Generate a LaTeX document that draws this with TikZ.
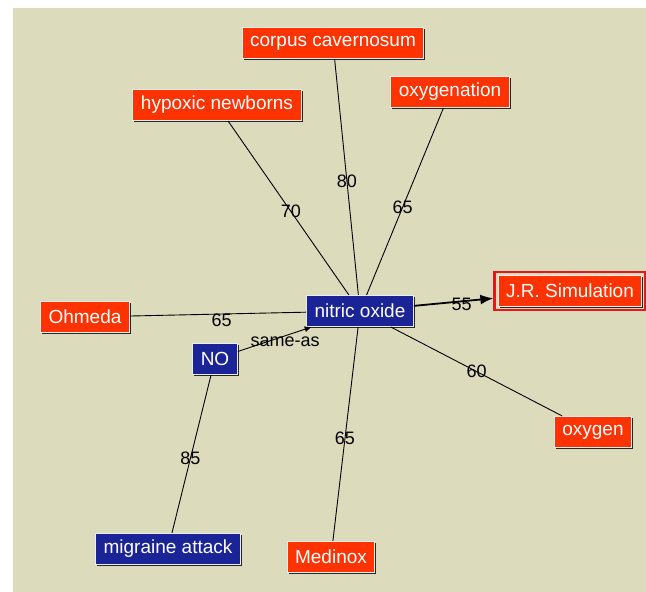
\documentclass[tikz,border=0pt]{standalone}
\usepackage{fontspec}
\setmainfont{Liberation Sans}
\usetikzlibrary{arrows.meta,shadows,fit}
\definecolor{kbbg}{RGB}{220,219,188}
\definecolor{kbred}{RGB}{255,51,0}
\definecolor{kbblue}{RGB}{26,36,150}
\definecolor{kbframe}{RGB}{232,24,24}

\begin{document}
\begin{tikzpicture}[x=1pt, y=-1pt,
  ent/.style={fill=kbred, draw=gray!15, line width=1pt, text=white, font=\fontsize{19}{21}\selectfont, inner xsep=8pt, minimum height=31pt, drop shadow={shadow xshift=1.5pt, shadow yshift=-1.5pt, fill=black!85, opacity=1}},
  con/.style={ent, fill=kbblue},
  rel/.style={line width=0.9pt, black},
  wt/.style={font=\fontsize{18}{20}\selectfont, text=black, inner sep=0pt}
]
  \useasboundingbox (0,0) rectangle (646,592);
  \fill[kbbg] (13,8) rectangle (646,592);

  % concepts
  \node[con] (nit) at (360,311) {nitric oxide};
  \node[con] (no)  at (215,359) {NO};
  \node[con] (mig) at (168,549) {migraine attack};

  % entities
  \node[ent] (cor) at (333,43)  {corpus cavernosum};
  \node[ent] (hyp) at (217,105) {hypoxic newborns};
  \node[ent] (oxn) at (450,92)  {oxygenation};
  \node[ent] (ohm) at (85,317)  {Ohmeda};
  \node[ent] (jrs) at (570,291) {J.R. Simulation};
  \node[ent] (oxy) at (593,432) {oxygen};
  \node[ent] (med) at (331,557) {Medinox};

  % selection frame
  \node[draw=kbframe, line width=2.5pt, inner sep=3pt, fit=(jrs)] (sel) {};

  % weighted links
  \draw[rel] (hyp) -- node[wt, pos=0.52] {70} (nit);
  \draw[rel] (cor) -- node[wt, pos=0.52] {80} (nit);
  \draw[rel] (oxn) -- node[wt, pos=0.53] {65} (nit);
  \draw[rel] (ohm) -- node[wt, pos=0.52, yshift=-6pt] {65} (nit);
  \draw[rel] (nit) -- node[wt, pos=0.5] {60} (oxy);
  \draw[rel] (nit) -- node[wt, pos=0.52] {65} (med);
  \draw[rel] (no) -- node[wt, pos=0.53] {85} (mig);
  \draw[rel, line width=1.8pt, -{Latex[length=13pt, width=10pt]}] (nit) -- node[wt, pos=0.6, yshift=-3pt] {55} (sel);

  % same-as
  \draw[rel, -{Latex[length=7pt, width=6pt]}] (no) -- node[wt, pos=0.64, yshift=-6pt] {same-as} (nit);
\end{tikzpicture}
\end{document}
